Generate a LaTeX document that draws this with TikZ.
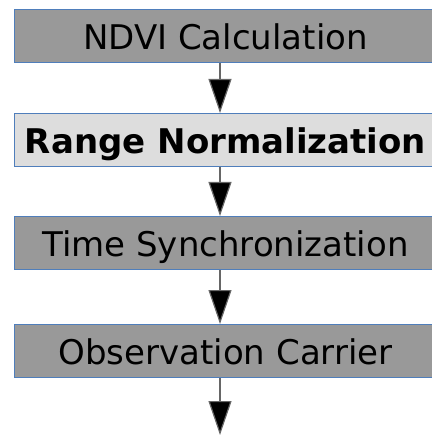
\documentclass[tikz,border=0pt]{standalone}
\usepackage{fontspec}
\setmainfont{DejaVu Sans}
\usetikzlibrary{arrows.meta}
\definecolor{boxdark}{HTML}{999999}
\definecolor{boxlight}{HTML}{DDDDDD}
\definecolor{boxedge}{HTML}{4F7EBB}
\begin{document}
\begin{tikzpicture}
\fontsize{34}{40}\selectfont
\tikzset{
    stage/.style={draw=boxedge, line width=1pt, fill=boxdark, minimum width=423pt, minimum height=53pt, inner sep=0pt, text height=27pt, text depth=0pt, anchor=center},
    current/.style={stage, fill=boxlight, font=\bfseries},
    flow/.style={draw=black!60, line width=1.2pt, -{Triangle[length=34pt,width=23pt,fill=black]}},
}
\useasboundingbox (0,0) rectangle (431pt,-435pt);
\coordinate (ax) at (220pt,0);        % arrow column
\coordinate (end) at (220pt,-435pt);  % open end of the last arrow

% The stages, top to bottom.
\node[stage]   (ndvi)  at (225.5pt,-36pt)  {NDVI Calculation};
\node[current] (range) at (225.5pt,-140pt) {Range Normalization};
\node[stage]   (sync)  at (225.5pt,-243pt) {Time Synchronization};
\node[stage]   (obs)   at (225.5pt,-351pt) {Observation Carrier};

% The arrows between them.
\draw[flow] (ax |- ndvi.south)  -- (ax |- range.north);
\draw[flow] (ax |- range.south) -- (ax |- sync.north);
\draw[flow] (ax |- sync.south)  -- (ax |- obs.north);
\draw[flow] (ax |- obs.south)   -- (end);
\end{tikzpicture}
\end{document}
